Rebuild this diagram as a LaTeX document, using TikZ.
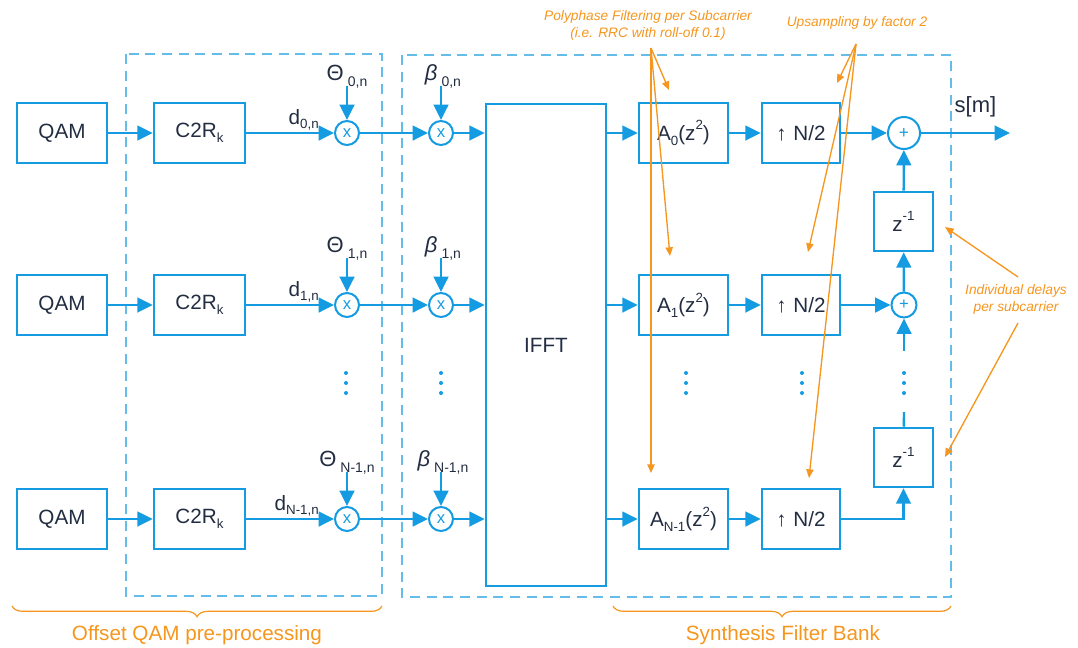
\documentclass[tikz,border=0pt]{standalone}
\usepackage{fontspec}
\setmainfont{Liberation Sans}
\usetikzlibrary{arrows.meta,decorations.pathreplacing,calc}
\definecolor{fbblue}{RGB}{20,155,225}
\definecolor{dashblue}{RGB}{100,188,235}
\definecolor{noteor}{RGB}{245,150,30}
\definecolor{ink}{RGB}{35,45,65}
\newcommand{\sbs}[1]{\raisebox{-0.45ex}{\fontsize{10}{10}\selectfont #1}}
\newcommand{\sps}[1]{\raisebox{0.95ex}{\fontsize{10}{10}\selectfont #1}}
\newcommand{\lsb}[1]{\raisebox{-0.6ex}{\fontsize{10.5}{10.5}\selectfont #1}}
\begin{document}
\begin{tikzpicture}[x=0.75pt,y=-0.75pt,
  txt/.style={text=ink,font=\fontsize{15.5}{18}\selectfont},
  blk/.style={draw=fbblue,line width=1.9pt,txt,inner sep=0pt,minimum height=45pt},
  mul/.style={circle,draw=fbblue,line width=1.5pt,minimum size=18pt,inner sep=0pt,text=fbblue,font=\fontsize{12.5}{12.5}\selectfont},
  flow/.style={draw=fbblue,line width=1.8pt,-{Triangle[length=11.5pt,width=11pt]}},
  wire/.style={draw=fbblue,line width=1.8pt},
  grp/.style={draw=dashblue,line width=1.1pt,dash pattern=on 7.5pt off 5pt},
  note/.style={text=noteor,font=\fontsize{10.3}{12.75}\selectfont\itshape},
  noteline/.style={draw=noteor,line width=1pt,-{Triangle[length=6.5pt,width=5.5pt]}},
  brc/.style={draw=noteor,line width=0.9pt,decorate,decoration={brace,mirror,amplitude=8pt}},
  lbl/.style={text=noteor,font=\fontsize{15.5}{18}\selectfont},
]
\useasboundingbox (0,0) rectangle (1078,647);

% group frames
\draw[grp] (126,54) rectangle (382,596);
\draw[grp] (402,55) rectangle (951,597);

% IFFT
\node[blk,minimum width=90pt,minimum height=361.5pt] (ifft) at (546,345) {IFFT};

% rows
\foreach \i/\y/\lab in {0/133/0,1/305/1,2/519/N-1}{
  \node[blk,minimum width=67.5pt] (q\i) at (62,\y) {QAM};
  \node[blk,minimum width=68.25pt] (c\i) at (199.5,\y) {C2R\sbs{k}};
  \node[mul] (t\i) at (347,\y) {x};
  \node[mul] (b\i) at (441,\y) {x};
  \node[blk,minimum width=66.75pt] (a\i) at (683.5,\y) {A\sbs{\lab}(z\sps{2})};
  \node[blk,minimum width=58.5pt] (u\i) at (801,\y) {↑\hspace{5pt}N/2};
  \node[txt,anchor=base east,inner sep=0pt] (d\i) at (319,\y-9) {d\sbs{\lab,n}};
  \node[txt,anchor=base,inner sep=0pt,font=\fontsize{16.5}{18}\selectfont] (th\i) at (347,\y-53) {Θ\hspace{3pt}\lsb{\lab,n}};
  \node[txt,anchor=base,inner sep=0pt,font=\fontsize{16.5}{18}\selectfont] (be\i) at (443,\y-53) {\textit{β}\hspace{3pt}\lsb{\lab,n}};
  \coordinate (tt\i) at (347,\y-47);
  \coordinate (bt\i) at (441,\y-47);
  \draw[flow] (q\i) -- (c\i);
  \draw[flow] (c\i) -- (t\i);
  \draw[flow] (t\i) -- (b\i);
  \draw[flow] (b\i) -- (b\i -| ifft.west);
  \draw[flow] (ifft.east |- a\i) -- (a\i);
  \draw[flow] (a\i) -- (u\i);
  \draw[flow] (tt\i) -- (t\i);
  \draw[flow] (bt\i) -- (b\i);
}

% summation column
\node[mul,minimum size=24pt,font=\fontsize{13}{13}\selectfont] (s0) at (904,133) {+};
\node[mul,minimum size=18.75pt] (s1) at (904,305) {+};
\node[blk,minimum width=44.25pt,minimum height=44.25pt] (zu) at (903.5,221.5) {z\sps{-1}};
\node[blk,minimum width=44.25pt,minimum height=44.25pt] (zl) at (903.5,457.5) {z\sps{-1}};
\coordinate (out) at (1010,133);
\coordinate (zt) at (904,412);
\coordinate (zb) at (904,351);
\node[txt,anchor=west,font=\fontsize{16.5}{18}\selectfont] (sm) at (950,107) {s[m]};
\draw[flow] (u0) -- (s0);
\draw[flow] (s0) -- (out);
\draw[flow] (u1) -- (s1);
\draw[flow] (zu) -- (s0);
\draw[flow] (s1) -- (zu);
\draw[wire] (zl) -- (zt);
\draw[flow] (zb) -- (s1);
\draw[flow] (u2.east) -| (zl.south);

% vertical dots
\foreach \x in {346,441,686,802}{
  \foreach \d in {373,383,393}{\fill[fbblue] (\x,\d) circle (1.5pt);}
}
\foreach \d in {373,383,393}{\fill[fbblue] (904,\d) circle (1.5pt);}

% annotations
\node[note,align=center] (pf) at (648,25) {Polyphase Filtering per Subcarrier\\(i.e. RRC with roll-off 0.1)};
\node[note] (up) at (857,23) {Upsampling by factor 2};
\node[note,align=center] (dl) at (1016,299) {Individual delays\\per subcarrier};
\coordinate (pfo) at (651,48);
\coordinate (pf1) at (669,90);
\coordinate (pf2) at (670,256);
\coordinate (pf3) at (651,473);
\coordinate (upo) at (856,44);
\coordinate (up1) at (837,83);
\coordinate (up2) at (808,252);
\coordinate (up3) at (809,478);
\coordinate (dla) at (1018,277);
\coordinate (dlb) at (1018,323);
\coordinate (dl1) at (945,227);
\coordinate (dl2) at (945,457);
\draw[noteline] (pfo) -- (pf1);
\draw[noteline] (pfo) -- (pf2);
\draw[noteline] (pfo) -- (pf3);
\draw[noteline] (upo) -- (up1);
\draw[noteline] (upo) -- (up2);
\draw[noteline] (upo) -- (up3);
\draw[noteline] (dla) -- (dl1);
\draw[noteline] (dlb) -- (dl2);

% braces
\draw[brc] (12,606) -- (382,606);
\draw[brc] (613,606) -- (951,606);
\node[lbl] (oq) at (197,635) {Offset QAM pre-processing};
\node[lbl] (sf) at (783,635) {Synthesis Filter Bank};
\end{tikzpicture}
\end{document}
